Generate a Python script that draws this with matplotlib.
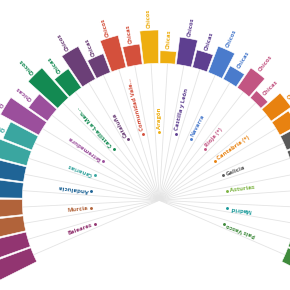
import numpy as np
import matplotlib
matplotlib.use('Agg')
import matplotlib.pyplot as plt

plt.rcParams['font.family'] = ['Open Sans', 'DejaVu Sans']

# ---------- datos ----------
regiones = ['Baleares', 'Murcia', 'Andalucía', 'Canarias', 'Extremadura',
            'Castilla-La Man...', 'Cataluña', 'Comunidad Vale...', 'Aragón',
            'Castilla y León', 'Navarra', 'Rioja (*)', 'Cantabria (*)',
            'Galicia', 'Asturias', 'Madrid', 'País Vasco']
chicos = [48, 38, 40, 42, 43.5, 40, 37, 33, 33.3, 27.5, 28, 24, 24.5, 30, 26, 30, 28]
chicas = [42, 32, 35, 31, 23.3, 23, 20, 20.5, 12.5, 18, 15, 9.5, 20, 22, 16, 20, 18]
colores = ['#923571', '#b1633a', '#1f6496', '#3aa6a0', '#9b4f9c', '#138a52',
           '#6b3f77', '#d4503c', '#eeae10', '#5e3f90', '#4a7bcc', '#c25582',
           '#e88210', '#595959', '#7cb342', '#1a9a9a', '#3f8a3c']

# ---------- geometría ----------
W = H = 290
cx, cy = 159.3, 290 - 200.3     # centro en px (desde abajo)
R = 260                          # radio del eje polar en px
BASE = 137                       # radio donde empiezan las barras
R_DOT = 68.6
paso = np.deg2rad(13.75)
ang0 = np.deg2rad(200)
off = np.deg2rad(3.44)
ancho = np.deg2rad(6.3)

fig = plt.figure(figsize=(W / 100, H / 100), dpi=100)
fig.patch.set_facecolor('white')
ax = fig.add_axes([(cx - R) / W, (cy - R) / H, 2 * R / W, 2 * R / H], projection='polar')
ax.set_ylim(0, R)
ax.set_axis_off()

n = len(regiones)
theta = ang0 - paso * np.arange(n)
th_chicos = theta + off
th_chicas = theta - off

# radios grises
for t in np.concatenate([th_chicos, th_chicas]):
    ax.plot([t, t], [0, BASE], color='#e4e4e4', lw=0.6, zorder=0)

ax.bar(th_chicos, chicos, width=ancho, bottom=BASE, color=colores,
       edgecolor='white', linewidth=0.4, zorder=2)
ax.bar(th_chicas, chicas, width=ancho, bottom=BASE, color=colores,
       edgecolor='white', linewidth=0.4, zorder=2)


def rotulo(t, r, txt, color, fs=4.3):
    deg = np.rad2deg(t) % 360
    if np.sin(t) < 0:
        rot, ha = deg + 180, 'right'
    else:
        rot, ha = deg, 'left'
    ax.text(t, r, txt, rotation=rot, rotation_mode='anchor', ha=ha, va='center',
            fontsize=fs, fontweight='bold', color=color, zorder=3)


for i in range(n):
    rotulo(th_chicos[i], BASE + chicos[i] + 2, 'Chicos', colores[i])
    rotulo(th_chicas[i], BASE + chicas[i] + 2, 'Chicas', colores[i])
    ax.plot(theta[i], R_DOT, 'o', ms=2.1, color=colores[i], mec='none', zorder=3)
    rotulo(theta[i], R_DOT + 3, regiones[i], colores[i])

fig.savefig('out.png', dpi=100, facecolor='white')
